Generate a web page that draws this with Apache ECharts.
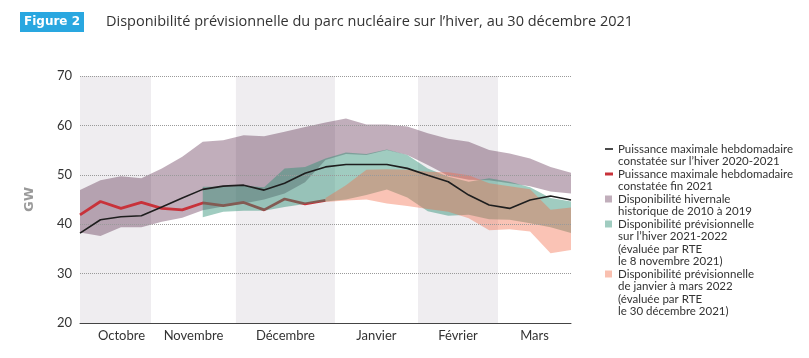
<!DOCTYPE html>
<html><head><meta charset="utf-8">
<script src="https://cdn.jsdelivr.net/npm/echarts@6/dist/echarts.min.js"></script>
<style>html,body{margin:0;padding:0;background:#fff}#c{width:809px;height:358px}</style>
</head><body><div id="c"></div>
<script>
// ---- data (weekly points, index 0 = first week of October) ----
const weekIndex = [0,1,2,3,4,5,6,7,8,9,10,11,12,13,14,15,16,17,18,19,20,21,22,23,24];
const monthNames = ['Octobre','Novembre','Décembre','Janvier','Février','Mars'];
const monthBounds = [0, 3.47, 7.62, 12.46, 16.52, 20.43, 24];
const yTicks = [20, 30, 40, 50, 60, 70];

// Puissance maximale hebdomadaire constatée sur l'hiver 2020-2021
const maxWinter2021 = [38.2,40.9,41.5,41.7,43.5,45.3,47.05,47.7,47.9,46.9,48.3,50.3,51.6,52.1,52.1,52.1,51.3,49.9,48.6,45.9,43.9,43.2,44.9,45.7,44.9];
// Puissance maximale hebdomadaire constatée fin 2021 (weeks 0..12)
const maxEnd2021 = [41.9,44.6,43.2,44.4,43.2,42.9,44.3,43.75,44.4,42.9,45.1,44.1,44.8];
// Disponibilité hivernale historique 2010-2019
const histLow  = [38.3,37.6,39.4,39.4,40.5,41.3,42.8,43.6,44.2,45.0,46.2,48.5,53.0,54.2,54.0,55.0,54.0,52.0,49.8,49.0,48.9,48.3,47.7,46.6,46.2];
const histHigh = [46.9,48.9,49.7,49.3,51.3,53.65,56.7,57.0,58.0,57.8,58.7,59.7,60.6,61.4,60.2,60.2,59.8,58.4,57.3,56.7,55.0,54.3,53.3,51.6,50.4];
// Disponibilité prévisionnelle (8 novembre 2021), weeks 6..24
const novStart = 6;
const novLow  = [41.4,42.5,42.7,42.7,43.5,44.1,44.6,45.0,45.9,47.0,45.4,42.6,41.7,41.9,41.0,40.9,40.2,39.4,38.2];
const novHigh = [47.6,47.6,47.8,47.5,51.3,51.6,53.3,54.5,54.2,55.1,54.0,51.3,49.6,48.6,49.3,48.6,47.5,45.3,44.6];
// Disponibilité prévisionnelle (30 décembre 2021), weeks 12..24
const decStart = 12;
const decLow  = [44.5,44.8,45.0,44.2,43.7,43.1,42.5,41.2,38.8,39.0,38.5,34.1,34.8];
const decHigh = [45.3,47.9,51.0,51.1,51.0,50.6,50.5,49.9,48.3,47.7,47.1,42.9,43.4];

// ---- styles ----
const C = {
  bg: '#efedf0', hist: '#c1aebb', teal: 'rgba(44,142,115,0.45)', tealLegend: '#a0ccc0',
  salmon: 'rgba(242,105,70,0.4)', salmonLegend: '#f9c0b0', black: '#1e1e1e', red: '#c8323a', text: '#333'
};
const FONT = 'Lato';

function pts(start, arr) { return arr.map((v, k) => [weekIndex[start + k], v]); }

function band(name, start, lo, hi, color, blend, z) {
  const xs = lo.map((v, k) => weekIndex[start + k]);
  const s = {
    type: 'custom', name: name, z: z, silent: true,
    data: lo.map((v, k) => [xs[k], v, hi[k]]),
    encode: { x: 0, y: [1, 2] },
    renderItem: function (params, api) {
      if (params.dataIndex !== 0) return null;
      const upper = hi.map((v, k) => api.coord([xs[k], v]));
      const lower = lo.map((v, k) => api.coord([xs[k], v])).reverse();
      const style = { fill: color, stroke: null };
      if (blend) style.blend = blend;
      return { type: 'polygon', shape: { points: upper.concat(lower) }, style: style };
    }
  };
  if (blend) s.blendMode = blend;
  return s;
}

const areas = [];
for (let m = 0; m < monthNames.length; m++) {
  areas.push([
    { xAxis: monthBounds[m], name: monthNames[m],
      itemStyle: { color: m % 2 === 0 ? C.bg : 'rgba(255,255,255,0)' },
      label: { offset: m === 0 ? [6, 0] : [0, 0] } },
    { xAxis: monthBounds[m + 1] }
  ]);
}

const series = [
  {
    type: 'line', name: 'months', data: [], silent: true, z: 1,
    markArea: {
      silent: true, z: 1,
      label: { show: true, position: 'bottom', distance: 6, color: C.text, fontSize: 13, fontFamily: FONT },
      data: areas
    }
  },
  band('hist', 0, histLow, histHigh, C.hist, 'multiply', 2),
  {
    type: 'line', name: 'fin2021', data: pts(0, maxEnd2021), symbol: 'none',
    lineStyle: { color: C.red, width: 2.8 }, z: 3, silent: true
  },
  band('nov', novStart, novLow, novHigh, C.teal, null, 4),
  band('dec', decStart, decLow, decHigh, C.salmon, null, 5),
  {
    type: 'line', name: 'hiver2020', data: pts(0, maxWinter2021), symbol: 'none',
    lineStyle: { color: C.black, width: 1.6 }, z: 8, silent: true
  }
];

// ---- legend (graphic) ----
const legendItems = [
  { icon: 'line', color: C.black, w: 1.6, lines: ['Puissance maximale hebdomadaire', 'constatée sur l’hiver 2020-2021'] },
  { icon: 'line', color: C.red, w: 3, lines: ['Puissance maximale hebdomadaire', 'constatée fin 2021'] },
  { icon: 'rect', color: C.hist, lines: ['Disponibilité hivernale', 'historique de 2010 à 2019'] },
  { icon: 'rect', color: C.tealLegend, lines: ['Disponibilité prévisionnelle', 'sur l’hiver 2021-2022', '(évaluée par RTE', 'le 8 novembre 2021)'] },
  { icon: 'rect', color: C.salmonLegend, lines: ['Disponibilité prévisionnelle', 'de janvier à mars 2022', '(évaluée par RTE', 'le 30 décembre 2021)'] }
];
const graphics = [
  { type: 'rect', shape: { x: 20, y: 12, width: 64, height: 20 }, style: { fill: '#29a7e0' } },
  { type: 'text', x: 52, y: 22, style: { text: 'Figure 2', fill: '#fff', font: 'bold 12px "DejaVu Sans"', textAlign: 'center', textVerticalAlign: 'middle' } },
  { type: 'text', x: 106, y: 22, style: { text: 'Disponibilité prévisionnelle du parc nucléaire sur l’hiver, au 30 décembre 2021', fill: C.text, font: '14.5px "Open Sans"', textAlign: 'left', textVerticalAlign: 'middle' } }
];
let ly = 149;
const lineStep = 12.5;
legendItems.forEach(it => {
  if (it.icon === 'line') {
    graphics.push({ type: 'line', shape: { x1: 605, y1: ly, x2: 613, y2: ly }, style: { stroke: it.color, lineWidth: it.w } });
  } else {
    graphics.push({ type: 'rect', shape: { x: 605, y: ly - 3.5, width: 7, height: 7 }, style: { fill: it.color } });
  }
  it.lines.forEach(t => {
    graphics.push({ type: 'text', x: 618, y: ly, style: { text: t, fill: C.text, font: '11.5px ' + FONT, textAlign: 'left', textVerticalAlign: 'middle' } });
    ly += lineStep;
  });
});

const chart = echarts.init(document.getElementById('c'), null, { renderer: 'canvas' });
chart.setOption({
  backgroundColor: '#fff',
  animation: false,
  grid: { left: 80, right: 238, top: 76, bottom: 35, containLabel: false },
  xAxis: {
    type: 'value', min: weekIndex[0], max: weekIndex[weekIndex.length - 1], z: 9,
    axisLabel: { show: false }, axisTick: { show: false }, splitLine: { show: false },
    axisLine: { show: true, lineStyle: { color: '#444', width: 1 } }
  },
  yAxis: {
    type: 'value', min: yTicks[0], max: yTicks[yTicks.length - 1], interval: 10, z: 7,
    name: 'GW', nameLocation: 'middle', nameGap: 44, nameRotate: 90,
    nameTextStyle: { color: '#9a9a9a', fontWeight: 'bold', fontSize: 13, fontFamily: 'DejaVu Sans' },
    axisLine: { show: false }, axisTick: { show: false },
    axisLabel: { color: C.text, fontSize: 13, fontFamily: FONT, margin: 8 },
    splitLine: { show: true, lineStyle: { color: '#9a9a9a', type: 'dotted', width: 1 } }
  },
  series: series,
  graphic: graphics
});
</script></body></html>
